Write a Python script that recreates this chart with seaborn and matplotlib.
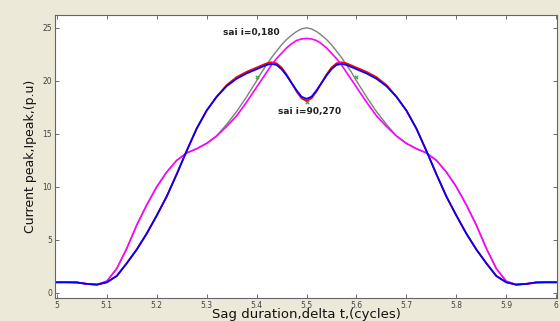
import numpy as np
import pandas as pd
import matplotlib
matplotlib.use("Agg")
import matplotlib.pyplot as plt
import seaborn as sns

# sag duration (cycles)
x = [5.00, 5.02, 5.04, 5.06, 5.08, 5.10, 5.12, 5.14, 5.16, 5.18, 5.20, 5.22, 5.24, 5.26, 5.28,
     5.30, 5.32, 5.34, 5.36, 5.38, 5.40, 5.41, 5.42, 5.43, 5.44, 5.45, 5.46, 5.47, 5.48, 5.49,
     5.50,
     5.51, 5.52, 5.53, 5.54, 5.55, 5.56, 5.57, 5.58, 5.59, 5.60, 5.62, 5.64, 5.66, 5.68, 5.70,
     5.72, 5.74, 5.76, 5.78, 5.80, 5.82, 5.84, 5.86, 5.88, 5.90, 5.92, 5.94, 5.96, 5.98, 6.00]

# sai i = 0,180
gray = [1.00, 1.02, 1.00, 0.85, 0.78, 1.1, 2.3, 4.2, 6.4, 8.3, 10.0, 11.4, 12.5, 13.2, 13.6,
        14.1, 14.8, 15.9, 17.1, 18.5, 20.0, 20.8, 21.5, 22.2, 22.8, 23.4, 23.9, 24.3, 24.65, 24.9,
        25.0,
        24.9, 24.65, 24.3, 23.9, 23.4, 22.8, 22.2, 21.5, 20.8, 20.0, 18.5, 17.1, 15.9, 14.8, 14.1,
        13.6, 13.2, 12.5, 11.4, 10.0, 8.3, 6.4, 4.2, 2.3, 1.1, 0.78, 0.85, 1.00, 1.02, 1.00]

magenta = [1.00, 1.02, 1.00, 0.85, 0.78, 1.1, 2.3, 4.2, 6.4, 8.3, 10.0, 11.4, 12.5, 13.2, 13.6,
           14.1, 14.8, 15.7, 16.7, 18.0, 19.4, 20.1, 20.8, 21.5, 22.1, 22.6, 23.1, 23.5, 23.8, 23.95,
           24.0,
           23.95, 23.8, 23.5, 23.1, 22.6, 22.1, 21.5, 20.8, 20.1, 19.4, 18.0, 16.7, 15.7, 14.8, 14.1,
           13.6, 13.2, 12.5, 11.4, 10.0, 8.3, 6.4, 4.2, 2.3, 1.1, 0.78, 0.85, 1.00, 1.02, 1.00]

red = [1.00, 1.00, 0.98, 0.85, 0.78, 1.00, 1.6, 2.8, 4.1, 5.6, 7.3, 9.1, 11.2, 13.4, 15.5,
       17.2, 18.5, 19.6, 20.35, 20.85, 21.25, 21.45, 21.65, 21.75, 21.65, 21.25, 20.6, 19.8, 19.0, 18.35,
       18.1,
       18.35, 19.0, 19.8, 20.6, 21.25, 21.65, 21.75, 21.65, 21.45, 21.25, 20.85, 20.35, 19.6, 18.5, 17.2,
       15.5, 13.4, 11.2, 9.1, 7.3, 5.6, 4.1, 2.8, 1.6, 1.00, 0.78, 0.85, 0.98, 1.00, 1.00]

# sai i = 90,270
blue = [1.00, 1.00, 0.98, 0.85, 0.78, 1.00, 1.6, 2.8, 4.1, 5.6, 7.3, 9.1, 11.2, 13.4, 15.5,
        17.2, 18.5, 19.5, 20.2, 20.7, 21.1, 21.3, 21.5, 21.6, 21.5, 21.1, 20.5, 19.8, 19.1, 18.5,
        18.3,
        18.5, 19.1, 19.8, 20.5, 21.1, 21.5, 21.6, 21.5, 21.3, 21.1, 20.7, 20.2, 19.5, 18.5, 17.2,
        15.5, 13.4, 11.2, 9.1, 7.3, 5.6, 4.1, 2.8, 1.6, 1.00, 0.78, 0.85, 0.98, 1.00, 1.00]

# small green marks
green_x = [5.40, 5.50, 5.60]
green_y = [20.4, 18.0, 20.4]

df = pd.DataFrame({"x": x, "gray": gray, "magenta": magenta, "red": red, "blue": blue})

bg = "#ece9d8"
fig = plt.figure(figsize=(5.6, 3.21), dpi=100, facecolor=bg)
ax = fig.add_axes([0.098, 0.072, 0.897, 0.881])
ax.set_facecolor("white")

sns.lineplot(data=df, x="x", y="gray", color="#7f7f7f", lw=1.0, sort=False, ax=ax)
sns.lineplot(data=df, x="x", y="red", color="#ff0000", lw=1.3, sort=False, ax=ax)
sns.lineplot(data=df, x="x", y="magenta", color="#ff00ff", lw=1.2, sort=False, ax=ax)
sns.lineplot(data=df, x="x", y="blue", color="#0000ff", lw=1.3, sort=False, ax=ax)
sns.scatterplot(x=green_x, y=green_y, color="#2ca02c", marker="x", s=6, linewidth=0.8, ax=ax)

ax.text(5.332, 24.6, "sai i=0,180", fontsize=6.5, fontweight="bold", color="#222222", va="center")
ax.text(5.442, 17.1, "sai i=90,270", fontsize=6.5, fontweight="bold", color="#222222", va="center")

ax.set_xlim(4.996, 6.002)
ax.set_ylim(-0.47, 26.2)
ax.set_xticks([5, 5.1, 5.2, 5.3, 5.4, 5.5, 5.6, 5.7, 5.8, 5.9, 6])
ax.set_xticklabels(["5", "5.1", "5.2", "5.3", "5.4", "5.5", "5.6", "5.7", "5.8", "5.9", "6"])
ax.set_yticks([0, 5, 10, 15, 20, 25])
ax.tick_params(direction="in", length=3, width=0.6, color="#555555", labelsize=5.5,
               labelcolor="#444444", top=True, right=True, pad=2)
for s in ax.spines.values():
    s.set_color("#666666")
    s.set_linewidth(0.8)

ax.set_xlabel("Sag duration,delta t,(cycles)", fontsize=9.5, labelpad=-1, color="#111111")
ax.set_ylabel("Current peak,Ipeak,(p.u)", fontsize=9, labelpad=4, color="#111111")

fig.savefig("out.png", dpi=100, facecolor=bg)
